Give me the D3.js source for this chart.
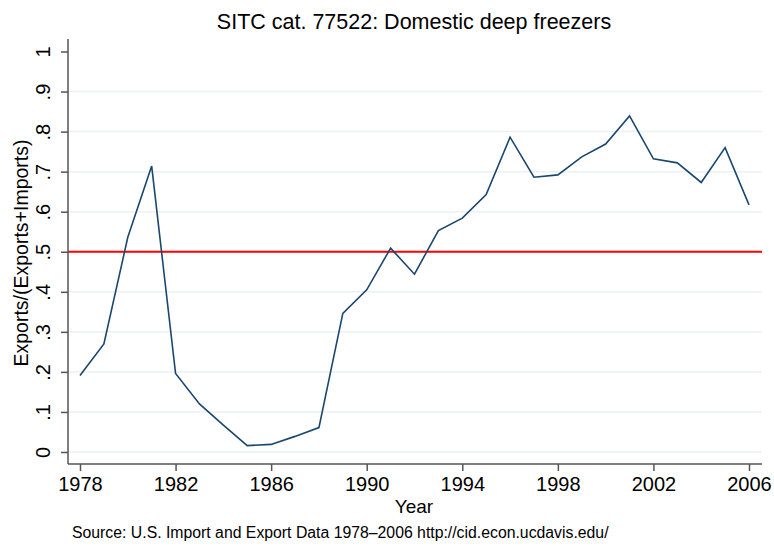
<!DOCTYPE html>
<html lang="en">
	<head>
		<meta charset="utf-8">
		<title>SITC 77522</title>
		<script type="text/javascript" src="https://cdn.jsdelivr.net/npm/d3@7"></script>
		<style type="text/css">
			body { margin: 0; background: #fff; }
			text { font-family: "Liberation Sans", Arial, sans-serif; fill: #000; }
		</style>
	</head>
	<body>
		<script type="text/javascript">
			//Data
			var years = [1978,1979,1980,1981,1982,1983,1984,1985,1986,1987,1988,1989,1990,1991,1992,
			             1993,1994,1995,1996,1997,1998,1999,2000,2001,2002,2003,2004,2005,2006];
			var shares = [0.191,0.270,0.536,0.714,0.196,0.120,0.067,0.016,0.019,0.039,0.061,0.346,0.405,0.509,0.444,
			              0.553,0.584,0.643,0.786,0.686,0.692,0.737,0.769,0.839,0.732,0.722,0.673,0.760,0.617];
			var xTicks = [1978,1982,1986,1990,1994,1998,2002,2006];
			var yTicks = [0,0.1,0.2,0.3,0.4,0.5,0.6,0.7,0.8,0.9,1];
			var yTickLabels = ["0",".1",".2",".3",".4",".5",".6",".7",".8",".9","1"];
			var refLine = 0.5;

			//Width and height
			var w = 774;
			var h = 546;
			var plot = { left: 68, right: 762, top: 39, bottom: 464 };

			var x = d3.scaleLinear().domain([1978, 2006]).range([80, 749]);
			var y = d3.scaleLinear().domain([0, 1]).range([452, 51.5]);

			var svg = d3.select("body")
						.append("svg")
						.attr("width", w)
						.attr("height", h);

			//grid lines (none at the top tick)
			svg.selectAll("line.grid")
			   .data(yTicks.filter(function(d) { return d < 1; }))
			   .enter()
			   .append("line")
			   .attr("class", "grid")
			   .attr("x1", plot.left)
			   .attr("x2", plot.right)
			   .attr("y1", function(d) { return y(d); })
			   .attr("y2", function(d) { return y(d); })
			   .attr("stroke", "#eaf2f3")
			   .attr("stroke-width", 1.5);

			//reference line
			svg.append("line")
			   .attr("x1", plot.left)
			   .attr("x2", plot.right)
			   .attr("y1", y(refLine))
			   .attr("y2", y(refLine))
			   .attr("stroke", "#ff0000")
			   .attr("stroke-width", 2);

			//the series
			var line = d3.line()
			             .x(function(d, i) { return x(years[i]); })
			             .y(function(d) { return y(d); });

			svg.append("path")
			   .datum(shares)
			   .attr("d", line)
			   .attr("fill", "none")
			   .attr("stroke", "#1a476f")
			   .attr("stroke-width", 1.6)
			   .attr("stroke-linejoin", "miter");

			//x axis
			var xAxis = d3.axisBottom(x)
			              .tickValues(xTicks)
			              .tickFormat(d3.format("d"))
			              .tickSizeInner(7)
			              .tickSizeOuter(0)
			              .tickPadding(4);

			var gx = svg.append("g")
			   .attr("transform", "translate(0," + plot.bottom + ")")
			   .call(xAxis);
			gx.select(".domain").remove();
			gx.append("line")
			  .attr("x1", plot.left).attr("x2", plot.right)
			  .attr("y1", 0).attr("y2", 0)
			  .attr("stroke", "#555").attr("stroke-width", 1.5);
			gx.selectAll(".tick line").attr("stroke", "#555").attr("stroke-width", 1.5);
			gx.selectAll(".tick text")
			  .style("font-size", "20px")
			  .attr("font-family", null)
			  .attr("y", 27)
			  .attr("dy", null);

			//y axis
			var yAxis = d3.axisLeft(y)
			              .tickValues(yTicks)
			              .tickFormat(function(d, i) { return yTickLabels[i]; })
			              .tickSizeInner(7)
			              .tickSizeOuter(0);

			var gy = svg.append("g")
			   .attr("transform", "translate(" + plot.left + ",0)")
			   .call(yAxis);
			gy.select(".domain").remove();
			gy.append("line")
			  .attr("x1", 0).attr("x2", 0)
			  .attr("y1", plot.top).attr("y2", plot.bottom)
			  .attr("stroke", "#555").attr("stroke-width", 1.5);
			gy.selectAll(".tick line").attr("stroke", "#555").attr("stroke-width", 1.5);
			gy.selectAll(".tick text")
			  .style("font-size", "20px")
			  .attr("x", null)
			  .attr("dy", null)
			  .attr("text-anchor", "middle")
			  .attr("transform", "translate(-18,0) rotate(-90)");

			//titles
			svg.append("text")
			   .attr("x", 414)
			   .attr("y", 29)
			   .attr("text-anchor", "middle")
			   .style("font-size", "21.5px")
			   .text("SITC cat. 77522: Domestic deep freezers");

			svg.append("text")
			   .attr("x", 414)
			   .attr("y", 513)
			   .attr("text-anchor", "middle")
			   .style("font-size", "19px")
			   .text("Year");

			svg.append("text")
			   .attr("transform", "translate(28,253) rotate(-90)")
			   .attr("text-anchor", "middle")
			   .style("font-size", "19.5px")
			   .text("Exports/(Exports+Imports)");

			svg.append("text")
			   .attr("x", 72)
			   .attr("y", 538)
			   .style("font-size", "15.8px")
			   .text("Source: U.S. Import and Export Data 1978\u20132006 http://cid.econ.ucdavis.edu/");
		</script>
	</body>
</html>
